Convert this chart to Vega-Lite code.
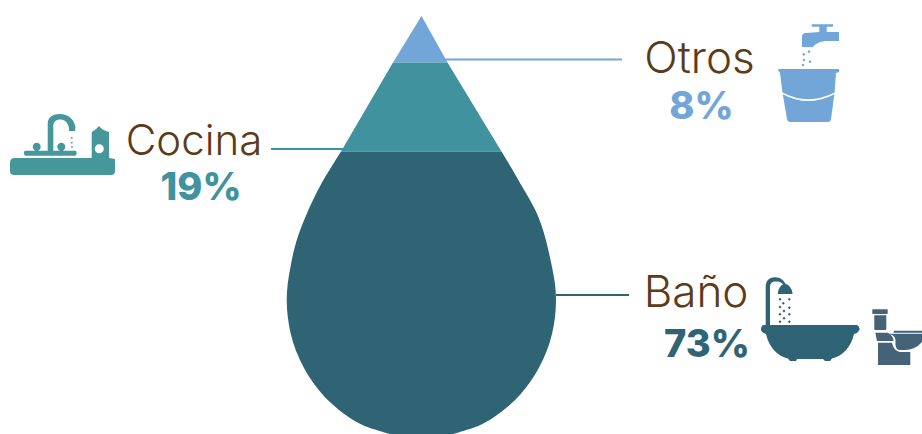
{"$schema":"https://vega.github.io/schema/vega-lite/v6.json","width":922,"height":434,"padding":0,"autosize":{"type":"none"},"background":"white","view":{"stroke":null},
"datasets":{"gota":[
{"seg":"Otros","y":16,"izq":421.5,"der":421.5},{"seg":"Otros","y":62.5,"izq":393,"der":447.5},
{"seg":"Cocina","y":62.5,"izq":393,"der":447.5},{"seg":"Cocina","y":151.5,"izq":341,"der":501.5},
{"seg":"Baño","y":151.5,"izq":341,"der":501.5},{"seg":"Baño","y":166.7,"izq":331.5,"der":510.7},{"seg":"Baño","y":183,"izq":321.7,"der":520},{"seg":"Baño","y":200,"izq":313,"der":530},{"seg":"Baño","y":216.7,"izq":305.5,"der":538.3},{"seg":"Baño","y":233.3,"izq":299,"der":544},{"seg":"Baño","y":250,"izq":294,"der":548.3},{"seg":"Baño","y":267,"izq":290.5,"der":552},{"seg":"Baño","y":284,"izq":287.7,"der":555},{"seg":"Baño","y":300,"izq":286.7,"der":556},{"seg":"Baño","y":317,"izq":287.8,"der":555},{"seg":"Baño","y":334,"izq":290.8,"der":552},{"seg":"Baño","y":350.7,"izq":296,"der":546.8},{"seg":"Baño","y":367.3,"izq":303.6,"der":539.2},{"seg":"Baño","y":384,"izq":314.1,"der":528.7},{"seg":"Baño","y":400.7,"izq":328.5,"der":514.3},{"seg":"Baño","y":417,"izq":348.6,"der":494.2},{"seg":"Baño","y":425.5,"izq":363.5,"der":479.3},{"seg":"Baño","y":434,"izq":390,"der":453}],
"etiquetas":[
{"seg":"Otros","nombre":"Otros","pct":"8%","nx":699.5,"ny":73,"px":701.5,"py":119,"lx":408,"lx2":622,"ly":59.5},
{"seg":"Cocina","nombre":"Cocina","pct":"19%","nx":194,"ny":155,"px":201,"py":200,"lx":271,"lx2":343,"ly":149},
{"seg":"Baño","nombre":"Baño","pct":"73%","nx":696,"ny":307,"px":707,"py":357,"lx":556,"lx2":629,"ly":295}]},
"layer":[
{"data":{"name":"gota"},"mark":{"type":"area","orient":"horizontal","interpolate":"catmull-rom"},"encoding":{
"y":{"field":"y","type":"quantitative","scale":{"domain":[434,0],"nice":false,"zero":false},"axis":null},
"x":{"field":"izq","type":"quantitative","scale":{"domain":[0,922],"nice":false,"zero":false},"axis":null},
"x2":{"field":"der"},
"color":{"field":"seg","type":"nominal","legend":null,"scale":{"domain":["Otros","Cocina","Baño"],"range":["#72a5d8","#40939e","#2e6474"]}}}},
{"data":{"name":"etiquetas"},"mark":{"type":"rule","strokeWidth":2},"encoding":{
"y":{"field":"ly","type":"quantitative"},"x":{"field":"lx","type":"quantitative"},"x2":{"field":"lx2"},
"color":{"field":"seg","type":"nominal"}}},
{"data":{"name":"etiquetas"},"mark":{"type":"text","font":"Inter","fontWeight":300,"align":"center","baseline":"alphabetic","color":"#5c3b17"},"encoding":{
"y":{"field":"ny","type":"quantitative"},"x":{"field":"nx","type":"quantitative"},"text":{"field":"nombre"},
"size":{"condition":{"test":"datum.seg==='Cocina'","value":42},"value":44}}},
{"data":{"name":"etiquetas"},"mark":{"type":"text","font":"Inter","fontSize":38,"fontWeight":800,"align":"center","baseline":"alphabetic"},"encoding":{
"y":{"field":"py","type":"quantitative"},"x":{"field":"px","type":"quantitative"},"text":{"field":"pct"},
"color":{"field":"seg","type":"nominal"}}},
{"data":{"values":[{"icono":"Fregadero","x":62,"y":145}]},"mark":{"type":"point","filled":true,"size":4,"opacity":1,"color":"#45979c","shape":"M-52 18 Q-52 13 -47 13 L29.7 13 L29.7 -13 Q33 -15 34 -16 L37 -19 L40 -16 Q43 -14 47 -13 L47 13 L53 14 L53 26 Q53 30 49 30 L-48 30 Q-52 30 -52 26 Z M32.8 3.7 C32.8 6.2 34.8 8.2 37.3 8.2 C39.8 8.2 41.8 6.2 41.8 3.7 C41.8 1.2 39.8 -0.8 37.3 -0.8 C34.8 -0.8 32.8 1.2 32.8 3.7 Z M-14.3 7 L-14.3 -21 C-14.3 -28 -9 -31 -2 -31 C6 -31 12 -26 13.5 -18 L13 -14 L7 -14 L7 -17 C6 -23 2 -25.5 -2 -25.5 C-6 -25.5 -8.7 -23 -8.7 -19 L-8.7 7 Z M-38 7 Q-38 5.7 -36 5.7 L13 5.7 Q14.7 5.7 14.7 8 Q14.7 10.7 13 10.7 L-36 10.7 Q-38 10.7 -38 8.5 Z M-29.3 2 C-29.3 -0.5 -27.5 -2.3 -25.3 -2.3 C-23 -2.3 -21.3 -0.5 -21.3 2 C-21.3 4 -23 5 -24 6 L-26.5 6 C-27.5 5 -29.3 4 -29.3 2 Z M-4.7 2 C-4.7 -0.5 -2.9 -2.3 -0.7 -2.3 C1.6 -2.3 3.3 -0.5 3.3 2 C3.3 4 1.6 5 0.6 6 L-1.9 6 C-2.9 5 -4.7 4 -4.7 2 Z M8.9 -7.8 L10.5 -7.8 L10.5 -6.2 L8.9 -6.2 Z M8.9 -3.1 L10.5 -3.1 L10.5 -1.5 L8.9 -1.5 Z M9.2 1.2 L10.8 1.2 L10.8 2.8 L9.2 2.8 Z"},"encoding":{"x":{"field":"x","type":"quantitative"},"y":{"field":"y","type":"quantitative"}}},
{"data":{"values":[{"icono":"Cubo","x":808,"y":73}]},"mark":{"type":"point","filled":true,"size":4,"opacity":1,"color":"#72a5d8","shape":"M-30 -3 Q-30 -4 -29 -4 L30 -4 Q32 -4 31 -1 L28 0 L26.6 19.5 Q0 33 -25.5 19.5 L-28 0 Z M-25.2 21.2 Q0 35 26.4 21.2 L23 46 Q22.5 49 20 49 L-18 49 Q-20.5 49 -21 46 Z M3.7 -48.7 L25 -48.7 L25 -46.3 L3.7 -46.3 Z M-6 -26 L-6 -36 Q-6 -40 -2 -40 L11.3 -41 L11.3 -46.3 L18.7 -46.3 L18.7 -41 L31 -41 L31 -32 L18.7 -32 C14 -32 8 -30 4.7 -25.7 Z M-0.6 -21.3 L1 -22.9 L2.6 -21.3 L1 -19.7 Z M-5.9 -18.7 L-4.3 -20.3 L-2.7 -18.7 L-4.3 -17.1 Z M-6.6 -8 L-5 -9.6 L-3.4 -8 L-5 -6.4 Z M0.4 -11.3 L2 -12.9 L3.6 -11.3 L2 -9.7 Z M-5.6 -13 L-4 -14.6 L-2.4 -13 L-4 -11.4 Z"},"encoding":{"x":{"field":"x","type":"quantitative"},"y":{"field":"y","type":"quantitative"}}},
{"data":{"values":[{"icono":"Bañera","x":810,"y":320}]},"mark":{"type":"point","filled":true,"size":4,"opacity":1,"color":"#2e6376","shape":"M-47 5 L47 5 Q50 6.5 49.5 10 Q48 13 44 14 C41 27 33 36 22 38.5 L20 41 L15 41 L13 39 L-13 39 L-14 41 L-20 41 L-22 38.5 C-33 36 -41 27 -44 14 Q-48 13 -49 10 Q-49 6 -47 5 Z M-44.3 5.5 L-44.3 -33 C-44.3 -40 -40 -42.7 -35 -42.7 C-30 -42.7 -26 -40 -24 -35 L-26 -34 C-28 -38 -31 -38.5 -34.5 -38.5 C-38 -38.5 -40 -37 -40 -32 L-40 5.5 Z M-25 -36.5 Q-18 -34 -17.3 -26 L-32.3 -26 Q-32 -34 -25 -36.5 Z M-31.5 -20.7 L-30 -22.2 L-28.5 -20.7 L-30 -19.2 Z M-22.2 -20.7 L-20.7 -22.2 L-19.2 -20.7 L-20.7 -19.2 Z M-28.2 -16.7 L-26.7 -18.2 L-25.2 -16.7 L-26.7 -15.2 Z M-31.5 -13 L-30 -14.5 L-28.5 -13 L-30 -11.5 Z M-22.2 -12.3 L-20.7 -13.8 L-19.2 -12.3 L-20.7 -10.8 Z M-27.5 -9 L-26 -10.5 L-24.5 -9 L-26 -7.5 Z M-31.5 -5.7 L-30 -7.2 L-28.5 -5.7 L-30 -4.2 Z M-22.2 -5.7 L-20.7 -7.2 L-19.2 -5.7 L-20.7 -4.2 Z M-27.5 -1.7 L-26 -3.2 L-24.5 -1.7 L-26 -0.2 Z M-31.5 1.7 L-30 0.2 L-28.5 1.7 L-30 3.2 Z M-22.2 1.7 L-20.7 0.2 L-19.2 1.7 L-20.7 3.2 Z"},"encoding":{"x":{"field":"x","type":"quantitative"},"y":{"field":"y","type":"quantitative"}}},
{"data":{"values":[{"icono":"Inodoro","x":897,"y":337}]},"mark":{"type":"point","filled":true,"size":4,"opacity":1,"color":"#446379","shape":"M-24.7 -27 Q-24.7 -27.7 -24 -27.7 L-10 -27.7 Q-9.3 -27.7 -9.3 -27 L-9.3 -23.7 Q-9.3 -23 -10 -23 L-24 -23 Q-24.7 -23 -24.7 -23.7 Z M-22.7 -21.7 L-10.7 -21.7 L-10.7 -8 Q-10.7 -7 -11.7 -7 L-21.7 -7 Q-22.7 -7 -22.7 -8 Z M-21.7 -4.3 L-9 -4.3 Q-3.5 -1 -3.5 4 L-20 4 Z M-3.3 -6.3 L28 -6.3 L28 -4.3 L-3.3 -4.3 Z M-8 -3.3 L25 -3.3 L25 5 Q18 13 8 13 L3 13 Q-1 13 -1.5 8 L-1.5 3 Q-2 -2 -8 -3.3 Z M-19 5.7 L-5 5.7 Q-3.5 14 3 15 L13.3 15 L13.3 28 L-19 28 Z"},"encoding":{"x":{"field":"x","type":"quantitative"},"y":{"field":"y","type":"quantitative"}}}
]}
